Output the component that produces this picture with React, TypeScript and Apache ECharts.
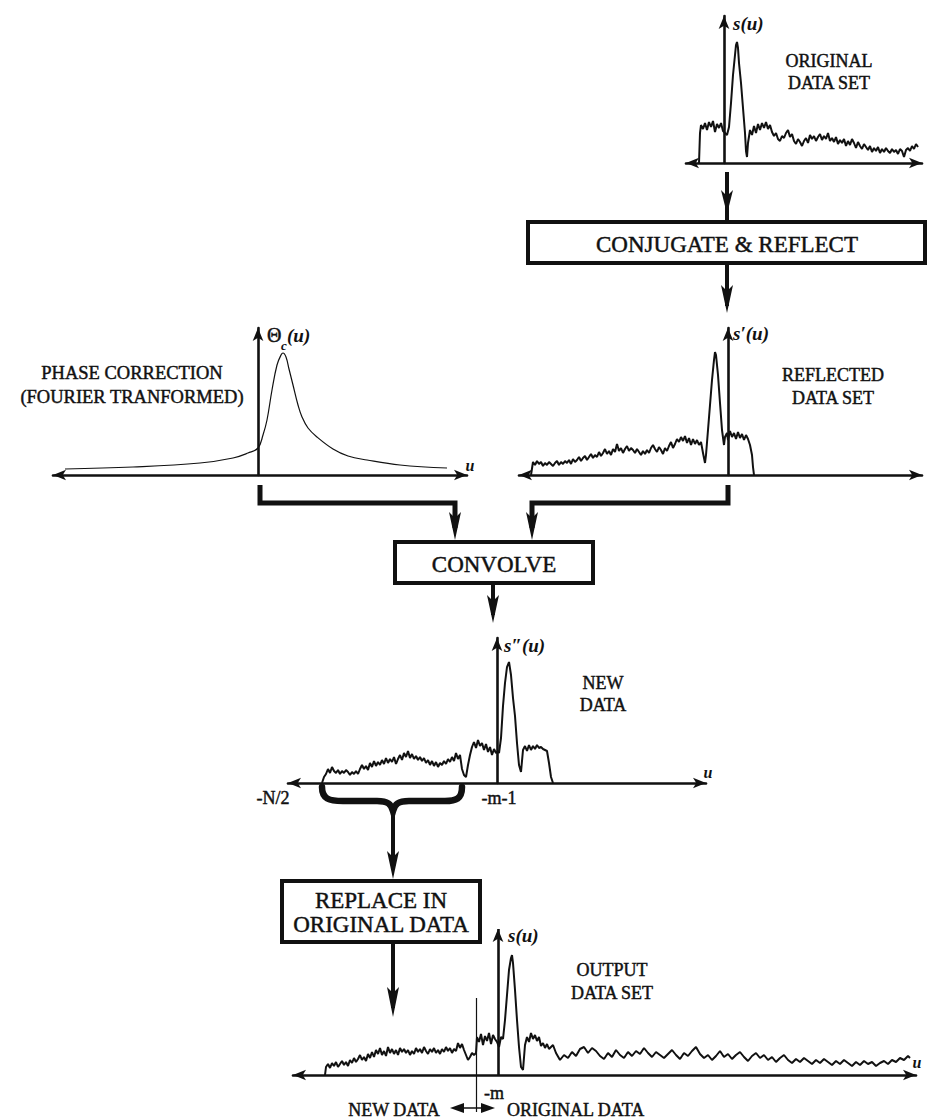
import React, { useEffect, useRef } from "react";
import * as echarts from "echarts";

// ---------- DATA (u = sample offset from the vertical axis, value = amplitude) ----------
const originalData: [number, number][] = [
  [-25, 0], [-24, 30], [-23, 38], [-21, 34], [-19, 40], [-17, 33], [-15, 41], [-13, 36], [-11, 42], [-9, 31],
  [-7, 39], [-5, 35], [-3, 40], [-1, 32], [1, 30], [3, 28], [5, 36], [7, 60], [9, 88], [11, 108],
  [12, 118], [13, 121], [14, 115], [15, 100], [17, 80], [19, 55], [21, 30], [22, 12], [23, 6], [24, 20],
  [26, 33], [28, 28], [30, 37], [32, 30], [34, 39], [36, 33], [38, 40], [40, 35], [42, 41], [44, 34],
  [46, 38], [48, 31], [50, 27], [52, 30], [54, 24], [56, 22], [58, 27], [60, 25], [62, 30], [64, 33],
  [66, 26], [68, 29], [70, 22], [72, 19], [74, 24], [76, 21], [78, 17], [80, 22], [82, 25], [84, 20],
  [86, 28], [88, 24], [90, 27], [92, 22], [94, 26], [96, 29], [98, 23], [100, 27], [102, 24], [104, 30],
  [106, 22], [108, 25], [110, 21], [112, 26], [114, 19], [116, 23], [118, 20], [120, 24], [122, 17], [124, 22],
  [126, 18], [128, 24], [130, 20], [132, 15], [134, 21], [136, 17], [138, 14], [140, 19], [142, 16], [144, 13],
  [146, 17], [148, 11], [150, 15], [152, 12], [154, 16], [156, 10], [158, 14], [160, 11], [162, 15], [164, 12],
  [166, 10], [168, 14], [170, 11], [172, 13], [174, 9], [176, 14], [178, 12], [180, 6], [182, 13], [184, 15],
  [186, 12], [188, 17], [190, 14], [192, 19], [194, 16],
];

const phaseCorrection: [number, number][] = [
  [-193, 6], [-125, 8], [-58, 12], [-25, 17], [-10, 22], [0, 27], [5, 40], [9, 55], [14, 85], [19, 110],
  [23, 120], [25, 122], [28, 118], [31, 106], [35, 90], [40, 70], [44, 58], [50, 47], [59, 38], [75, 26],
  [90, 19], [109, 15], [142, 10], [189, 7],
];

const reflectedData: [number, number][] = [
  [-197, 0], [-195, 13], [-193, 10], [-191, 14], [-189, 11], [-187, 13], [-185, 9], [-183, 12], [-181, 10], [-179, 13],
  [-177, 11], [-175, 9], [-173, 12], [-171, 14], [-169, 10], [-167, 13], [-165, 11], [-163, 14], [-161, 12], [-159, 15],
  [-157, 11], [-155, 16], [-153, 13], [-151, 15], [-149, 18], [-147, 14], [-145, 17], [-143, 19], [-141, 15], [-139, 18],
  [-137, 21], [-135, 17], [-133, 20], [-131, 18], [-129, 23], [-127, 19], [-125, 22], [-123, 26], [-121, 21], [-119, 24],
  [-117, 20], [-115, 26], [-113, 23], [-111, 31], [-109, 24], [-107, 27], [-105, 22], [-103, 26], [-101, 29], [-99, 24],
  [-97, 27], [-95, 25], [-93, 22], [-91, 26], [-89, 23], [-87, 20], [-85, 24], [-83, 21], [-81, 25], [-79, 22],
  [-77, 27], [-75, 30], [-73, 26], [-71, 23], [-69, 28], [-67, 25], [-65, 21], [-63, 27], [-61, 24], [-59, 29],
  [-57, 33], [-55, 27], [-53, 31], [-51, 36], [-49, 33], [-47, 38], [-45, 34], [-43, 39], [-41, 32], [-39, 37],
  [-37, 30], [-35, 36], [-33, 31], [-31, 35], [-29, 30], [-27, 33], [-25, 22], [-23, 12], [-22, 20], [-20, 45],
  [-18, 70], [-16, 95], [-14, 115], [-13, 123], [-12, 120], [-10, 100], [-8, 72], [-6, 45], [-4, 30], [-3, 38],
  [-1, 42], [0, 35], [2, 44], [4, 38], [6, 42], [8, 36], [10, 43], [12, 37], [14, 41], [16, 35],
  [18, 40], [20, 36], [22, 30], [24, 20], [25, 8], [26, 0],
];

const newData: [number, number][] = [
  [-175, 0], [-173, 6], [-171, 9], [-169, 14], [-167, 10], [-165, 16], [-163, 12], [-161, 10], [-159, 13], [-157, 9],
  [-155, 12], [-153, 10], [-151, 13], [-149, 11], [-147, 8], [-145, 11], [-143, 9], [-141, 12], [-139, 9], [-137, 14],
  [-135, 18], [-133, 14], [-131, 17], [-129, 13], [-127, 20], [-125, 16], [-123, 22], [-121, 17], [-119, 21], [-117, 18],
  [-115, 23], [-113, 19], [-111, 25], [-109, 20], [-107, 24], [-105, 21], [-103, 26], [-101, 19], [-99, 24], [-97, 28],
  [-95, 23], [-93, 30], [-91, 26], [-89, 32], [-87, 25], [-85, 29], [-83, 24], [-81, 27], [-79, 23], [-77, 26],
  [-75, 22], [-73, 25], [-71, 20], [-69, 23], [-67, 18], [-65, 22], [-63, 17], [-61, 21], [-59, 16], [-57, 20],
  [-55, 18], [-53, 22], [-51, 19], [-49, 24], [-47, 21], [-45, 26], [-43, 22], [-41, 30], [-39, 24], [-37, 28],
  [-35, 14], [-33, 8], [-31, 6], [-29, 18], [-27, 28], [-25, 36], [-23, 41], [-21, 35], [-19, 43], [-17, 37],
  [-15, 40], [-13, 33], [-11, 39], [-9, 31], [-7, 36], [-5, 28], [-3, 34], [-1, 30], [1, 32], [2, 30],
  [4, 45], [6, 77], [8, 100], [10, 116], [12, 121], [14, 108], [16, 85], [18, 67], [20, 40], [22, 18],
  [24, 11], [26, 33], [28, 37], [30, 32], [32, 38], [34, 33], [36, 37], [38, 34], [40, 38], [42, 35],
  [44, 36], [46, 34], [50, 32], [52, 20], [54, 6], [56, 0],
];

const outputNewPart: [number, number][] = [
  [-173, 0], [-172, 8], [-170, 11], [-168, 7], [-166, 12], [-164, 9], [-162, 13], [-160, 8], [-158, 11], [-156, 14],
  [-154, 10], [-152, 13], [-150, 9], [-148, 15], [-146, 12], [-144, 17], [-142, 13], [-140, 16], [-138, 20], [-136, 15],
  [-134, 18], [-132, 14], [-130, 21], [-128, 17], [-126, 23], [-124, 18], [-122, 25], [-120, 21], [-118, 27], [-116, 20],
  [-114, 24], [-112, 19], [-110, 28], [-108, 22], [-106, 26], [-104, 21], [-102, 25], [-100, 20], [-98, 27], [-96, 23],
  [-94, 26], [-92, 22], [-90, 25], [-88, 20], [-86, 24], [-84, 21], [-82, 27], [-80, 23], [-78, 26], [-76, 22],
  [-74, 28], [-72, 24], [-70, 21], [-68, 26], [-66, 23], [-64, 27], [-62, 22], [-60, 25], [-58, 21], [-56, 26],
  [-54, 23], [-52, 28], [-50, 24], [-48, 27], [-46, 22], [-44, 26], [-42, 24], [-40, 32], [-38, 27], [-36, 31],
  [-34, 25], [-32, 20], [-30, 15], [-28, 18], [-26, 22], [-24, 20],
];

const outputOriginalPart: [number, number][] = [
  [-22, 22], [-21, 38], [-19, 33], [-17, 41], [-15, 30], [-13, 39], [-11, 34], [-9, 42], [-7, 31], [-5, 40],
  [-3, 36], [-1, 33], [1, 28], [3, 38], [5, 36], [7, 55], [9, 80], [11, 105], [13, 117], [14, 120],
  [15, 112], [17, 85], [19, 55], [21, 28], [23, 8], [25, 5], [27, 30], [29, 38], [31, 33], [33, 42],
  [35, 36], [37, 40], [39, 34], [41, 38], [43, 29], [45, 32], [47, 27], [49, 31], [51, 26], [55, 30],
  [58, 22], [62, 15], [66, 20], [70, 17], [74, 23], [78, 19], [82, 26], [86, 28], [90, 22], [94, 27],
  [98, 24], [102, 19], [106, 16], [110, 22], [114, 18], [118, 25], [122, 20], [126, 17], [130, 23], [134, 19],
  [138, 24], [142, 21], [146, 27], [150, 22], [154, 18], [158, 23], [162, 20], [166, 17], [170, 21], [174, 25],
  [178, 20], [182, 16], [186, 22], [190, 19], [194, 24], [198, 28], [202, 21], [206, 17], [210, 20], [214, 15],
  [218, 19], [222, 24], [226, 18], [230, 21], [234, 16], [238, 20], [242, 23], [246, 18], [250, 14], [254, 19],
  [258, 22], [262, 17], [266, 20], [270, 15], [274, 18], [278, 13], [282, 17], [286, 20], [290, 15], [294, 12],
  [298, 16], [302, 13], [306, 17], [310, 14], [314, 11], [318, 15], [322, 12], [326, 16], [330, 13], [334, 10],
  [338, 14], [342, 11], [346, 15], [350, 12], [354, 9], [358, 13], [362, 10], [366, 14], [370, 11], [374, 13],
  [378, 9], [382, 12], [386, 14], [390, 11], [394, 15], [398, 13], [402, 17], [406, 15], [410, 19], [412, 17],
];

const markerM = -22; // position of -m in the output set
const markerTop = 77;

const boxLabels = ["CONJUGATE & REFLECT", "CONVOLVE", "REPLACE IN\nORIGINAL DATA"];
const panelLabels = [
  "ORIGINAL\nDATA SET",
  "PHASE CORRECTION\n(FOURIER TRANFORMED)",
  "REFLECTED\nDATA SET",
  "NEW\nDATA",
  "OUTPUT\nDATA SET",
];
const tickLabels = ["-N/2", "-m-1", "-m"];
const bottomLabels = ["NEW DATA", "ORIGINAL DATA"];

// ---------- LAYOUT / STYLE ----------
const INK = "#111111";
const FONT = '"Liberation Serif", "Times New Roman", serif';

const BRACE_D =
  "M322,787 C322,799 329,801 343,801 L377,801 C388,801 391,804 393,811 C395,804 398,801 409,801 L445,801 C456,801 462,799 462,787";
echarts.graphic.registerShape("brace", echarts.graphic.extendPath(BRACE_D, {}));

const panels = [
  { left: 686, top: 16, width: 236, height: 147, xMin: -38, xMax: 198, yMin: 0, yMax: 147 },
  { left: 53, top: 328, width: 414, height: 147, xMin: -205, xMax: 209, yMin: 0, yMax: 147 },
  { left: 519, top: 328, width: 403, height: 147, xMin: -209, xMax: 194, yMin: 0, yMax: 147 },
  { left: 288, top: 638, width: 418, height: 145, xMin: -209, xMax: 209, yMin: 0, yMax: 145 },
  { left: 293, top: 929, width: 623, height: 183, xMin: -205, xMax: 418, yMin: -37, yMax: 146 },
];

function txt(text: string, x: number, y: number, size: number, o: any = {}) {
  const font = `${o.italic ? "italic " : ""}${o.bold ? "bold " : ""}${size}px ${FONT}`;
  const align = o.align || "center";
  return {
    type: "text",
    silent: true,
    z: 100,
    style: {
      text,
      x,
      y,
      font,
      fill: INK,
      align,
      textAlign: align,
      verticalAlign: "middle",
      textVerticalAlign: "middle",
      lineHeight: o.lh || size + 3,
      stroke: INK,
      lineWidth: o.heavy === false ? 0 : 0.45,
    },
  };
}

function shaft(x1: number, y1: number, x2: number, y2: number, w = 4) {
  return { type: "line", silent: true, z: 95, shape: { x1, y1, x2, y2 }, style: { stroke: INK, lineWidth: w } };
}

function headDown(x: number, tip: number, len = 26, hw = 6) {
  return {
    type: "polygon",
    silent: true,
    z: 96,
    shape: { points: [[x - hw, tip - len], [x, tip - len + 6], [x + hw, tip - len], [x, tip]] },
    style: { fill: INK },
  };
}

function box(x: number, y: number, w: number, h: number) {
  return {
    type: "rect",
    silent: true,
    z: 94,
    shape: { x, y, width: w, height: h },
    style: { fill: "#fff", stroke: INK, lineWidth: 4 },
  };
}

export default function App() {
  const ref = useRef<HTMLDivElement>(null);

  useEffect(() => {
    if (!ref.current) return;
    const chart = echarts.init(ref.current, null, { renderer: "svg" });

    const axisLine = (arrows: string[], show = true) => ({
      show,
      onZero: true,
      symbol: arrows,
      symbolSize: [8, 13],
      lineStyle: { color: INK, width: 2.6 },
    });

    const xAxis = panels.map((p, i) => ({
      type: "value",
      gridIndex: i,
      min: p.xMin,
      max: p.xMax,
      axisLine: axisLine(["arrow", "arrow"]),
      axisTick: { show: false },
      axisLabel: { show: false },
      splitLine: { show: false },
    }));
    const yAxis = panels.map((p, i) => ({
      type: "value",
      gridIndex: i,
      min: p.yMin,
      max: p.yMax,
      axisLine: axisLine(["none", "arrow"], i !== 4),
      axisTick: { show: false },
      axisLabel: { show: false },
      splitLine: { show: false },
    }));

    const outputData = outputNewPart.concat(outputOriginalPart);
    const seriesData = [originalData, phaseCorrection, reflectedData, newData, outputData];

    const series: any[] = seriesData.map((d, i) => ({
      type: "line",
      xAxisIndex: i,
      yAxisIndex: i,
      data: d,
      symbol: "none",
      smooth: i === 1 ? 0.4 : false,
      silent: true,
      color: INK,
      itemStyle: { color: INK },
      lineStyle: { color: INK, width: i === 1 ? 1.2 : 2 },
    }));
    series[4].markLine = {
      silent: true,
      animation: false,
      symbol: ["none", "none"],
      label: { show: false },
      emphasis: { disabled: true },
      data: [
        [
          { coord: [0, 0], symbol: "none", lineStyle: { color: INK, width: 2.6, type: "solid" } },
          { coord: [0, panels[4].yMax], symbol: "arrow", symbolSize: [8, 13], itemStyle: { color: INK } },
        ],
        [
          { coord: [markerM, markerTop], symbol: "none", lineStyle: { color: INK, width: 1.2, type: "solid" } },
          { coord: [markerM, panels[4].yMin], symbol: "none" },
        ],
      ],
    };

    const graphic: any[] = [
      // arrow original -> conjugate
      shaft(727, 172, 727, 222),
      headDown(727, 214, 24, 6),
      box(528, 222, 397, 41),
      txt(boxLabels[0], 727, 244, 23),
      // conjugate -> reflected
      shaft(727, 263, 727, 306),
      headDown(727, 313, 28, 6),
      // connectors to convolve
      {
        type: "polyline",
        silent: true,
        z: 95,
        shape: { points: [[260, 485], [260, 503], [455, 503], [455, 528]] },
        style: { stroke: INK, lineWidth: 5, fill: "none", lineJoin: "miter" },
      },
      headDown(455, 540, 28, 6),
      {
        type: "polyline",
        silent: true,
        z: 95,
        shape: { points: [[728, 485], [728, 503], [532, 503], [532, 528]] },
        style: { stroke: INK, lineWidth: 5, fill: "none", lineJoin: "miter" },
      },
      headDown(532, 540, 28, 6),
      box(395, 542, 198, 41),
      txt(boxLabels[1], 494, 564, 23),
      // convolve -> new data
      shaft(493, 583, 493, 615),
      headDown(493, 623, 28, 6),
      // brace and arrow to replace box
      { type: "brace", x: 0, y: 0, silent: true, z: 95, style: { fill: "none", stroke: INK, lineWidth: 6.5, lineCap: "round" } },
      shaft(393, 810, 393, 868),
      headDown(393, 879, 28, 6),
      box(282, 881, 198, 61),
      txt(boxLabels[2], 381, 912, 23, { lh: 24 }),
      // replace -> output
      shaft(393, 942, 393, 1008),
      headDown(393, 1017, 30, 6),
      // bottom double arrow
      shaft(455, 1108, 490, 1108, 1.5),
      { type: "polygon", silent: true, z: 96, shape: { points: [[450, 1108], [464, 1103], [464, 1113]] }, style: { fill: INK } },
      { type: "polygon", silent: true, z: 96, shape: { points: [[495, 1108], [481, 1103], [481, 1113]] }, style: { fill: INK } },
      // axis labels
      txt("s(u)", 733, 23, 19, { italic: true, bold: true, align: "left", heavy: false }),
      txt("\u0398", 267, 335, 20, { align: "left" }),
      txt("c", 281, 345, 13, { italic: true, bold: true, align: "left", heavy: false }),
      txt("(u)", 287, 335, 19, { italic: true, bold: true, align: "left", heavy: false }),
      txt("s\u2032(u)", 733, 333, 19, { italic: true, bold: true, align: "left", heavy: false }),
      txt("s\u2033(u)", 504, 645, 19, { italic: true, bold: true, align: "left", heavy: false }),
      txt("s(u)", 508, 935, 19, { italic: true, bold: true, align: "left", heavy: false }),
      txt("u", 470, 465, 16, { italic: true, bold: true, heavy: false }),
      txt("u", 708, 772, 16, { italic: true, bold: true, heavy: false }),
      txt("u", 917, 1062, 16, { italic: true, bold: true, heavy: false }),
      // panel labels
      txt(panelLabels[0], 829, 72, 18, { lh: 22 }),
      txt(panelLabels[1], 132, 385, 18.5, { lh: 24 }),
      txt(panelLabels[2], 833, 386, 18, { lh: 23 }),
      txt(panelLabels[3], 603, 694, 18, { lh: 22 }),
      txt(panelLabels[4], 612, 981, 18, { lh: 23 }),
      // tick labels
      txt(tickLabels[0], 273, 798, 18),
      txt(tickLabels[1], 499, 798, 18),
      txt(tickLabels[2], 494, 1093, 18),
      txt(bottomLabels[0], 394, 1110, 18),
      txt(bottomLabels[1], 507, 1110, 18, { align: "left" }),
    ];

    chart.setOption({
      animation: false,
      backgroundColor: "#ffffff",
      textStyle: { fontFamily: FONT, color: INK },
      grid: panels.map((p) => ({ left: p.left, top: p.top, width: p.width, height: p.height, containLabel: false })),
      xAxis,
      yAxis,
      series,
      graphic,
    });

    return () => chart.dispose();
  }, []);

  return (
    <div
      ref={ref}
      style={{ position: "absolute", left: 0, top: 0, width: 930, height: 1120, background: "#fff" }}
    />
  );
}
